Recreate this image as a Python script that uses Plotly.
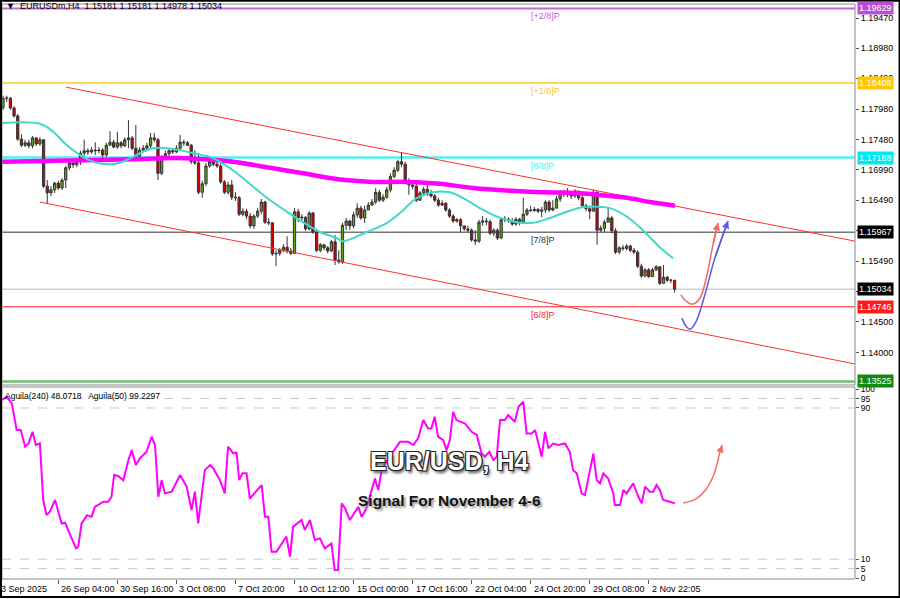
import plotly.graph_objects as go

# ---------------- data ----------------
first_open = 1.1800
close = [1.1816,1.1816,1.1800,1.1787,1.1749,1.1739,1.1743,1.1738,1.1751,1.1741,
         1.1748,1.1672,1.1661,1.1666,1.1677,1.1669,1.1682,1.1702,1.1710,1.1707,
         1.1712,1.1726,1.1730,1.1728,1.1731,1.1730,1.1731,1.1723,1.1739,1.1744,
         1.1736,1.1743,1.1738,1.1748,1.1751,1.1734,1.1721,1.1731,1.1734,1.1738,
         1.1751,1.1748,1.1693,1.1718,1.1725,1.1730,1.1728,1.1734,1.1744,1.1743,
         1.1739,1.1712,1.1710,1.1662,1.1676,1.1705,1.1712,1.1708,1.1705,1.1679,
         1.1662,1.1674,1.1654,1.1653,1.1626,1.1631,1.1623,1.1607,1.1623,1.1631,
         1.1646,1.1613,1.1612,1.1561,1.1562,1.1567,1.1572,1.1566,1.1562,1.1630,
         1.1620,1.1621,1.1602,1.1628,1.1597,1.1567,1.1576,1.1571,1.1566,1.1581,
         1.1551,1.1548,1.1608,1.1615,1.1607,1.1625,1.1636,1.1620,1.1633,1.1641,
         1.1646,1.1662,1.1649,1.1654,1.1666,1.1688,1.1698,1.1712,1.1708,1.1681,
         1.1674,1.1672,1.1649,1.1661,1.1667,1.1659,1.1656,1.1649,1.1641,1.1644,
         1.1633,1.1623,1.1615,1.1617,1.1607,1.1602,1.1600,1.1584,1.1582,1.1613,
         1.1615,1.1614,1.1595,1.1600,1.1587,1.1617,1.1618,1.1615,1.1610,1.1618,
         1.1612,1.1626,1.1633,1.1632,1.1634,1.1631,1.1633,1.1646,1.1633,1.1636,
         1.1651,1.1661,1.1662,1.1658,1.1656,1.1664,1.1653,1.1640,1.1635,1.1631,
         1.1662,1.1600,1.1603,1.1613,1.1620,1.1599,1.1564,1.1571,1.1570,1.1574,
         1.1567,1.1564,1.1541,1.1525,1.1535,1.1524,1.1535,1.1540,1.1513,1.1523,
         1.1518,1.15181,1.15034]
high = [1.1820,1.1820,1.1818,1.1803,1.1790,1.1757,1.1748,1.1748,1.1754,1.1752,
        1.1752,1.1746,1.1682,1.1672,1.1679,1.1681,1.1685,1.1705,1.1713,1.1712,
        1.1715,1.1730,1.1748,1.1734,1.1736,1.1744,1.1736,1.1734,1.1743,1.1762,
        1.1748,1.1761,1.1746,1.1752,1.1780,1.1754,1.1772,1.1736,1.1739,1.1743,
        1.1759,1.1759,1.1751,1.1723,1.1730,1.1733,1.1734,1.1739,1.1756,1.1748,
        1.1746,1.1741,1.1731,1.1726,1.1681,1.1710,1.1716,1.1713,1.1712,1.1710,
        1.1682,1.1679,1.1682,1.1662,1.1656,1.1636,1.1635,1.1628,1.1626,1.1636,
        1.1651,1.1648,1.1620,1.1613,1.1567,1.1571,1.1577,1.1590,1.1571,1.1636,
        1.1635,1.1626,1.1623,1.1631,1.1630,1.1602,1.1579,1.1577,1.1574,1.1584,
        1.1592,1.1567,1.1612,1.1620,1.1617,1.1630,1.1644,1.1640,1.1640,1.1646,
        1.1651,1.1669,1.1666,1.1659,1.1671,1.1693,1.1703,1.1715,1.1728,1.1712,
        1.1685,1.1679,1.1676,1.1664,1.1671,1.1676,1.1666,1.1659,1.1653,1.1649,
        1.1646,1.1636,1.1626,1.1620,1.1620,1.1607,1.1607,1.1603,1.1600,1.1617,
        1.1623,1.1620,1.1617,1.1603,1.1603,1.1620,1.1623,1.1621,1.1620,1.1621,
        1.1620,1.1653,1.1636,1.1640,1.1638,1.1636,1.1638,1.1649,1.1649,1.1649,
        1.1656,1.1666,1.1666,1.1669,1.1662,1.1667,1.1662,1.1658,1.1643,1.1640,
        1.1667,1.1664,1.1608,1.1617,1.1636,1.1623,1.1603,1.1574,1.1576,1.1577,
        1.1576,1.1571,1.1567,1.1545,1.1538,1.1538,1.1538,1.1543,1.1541,1.1543,
        1.1525,1.1520,1.15181]
low = [1.1797,1.1810,1.1797,1.1784,1.1746,1.1736,1.1736,1.1734,1.1734,1.1738,
       1.1738,1.1669,1.1644,1.1656,1.1661,1.1666,1.1666,1.1669,1.1698,1.1702,
       1.1703,1.1707,1.1721,1.1723,1.1725,1.1723,1.1726,1.1718,1.1720,1.1738,
       1.1734,1.1733,1.1734,1.1736,1.1734,1.1731,1.1718,1.1718,1.1728,1.1731,
       1.1734,1.1744,1.1682,1.1690,1.1715,1.1721,1.1725,1.1726,1.1731,1.1738,
       1.1738,1.1708,1.1707,1.1659,1.1653,1.1672,1.1702,1.1705,1.1702,1.1676,
       1.1659,1.1658,1.1649,1.1648,1.1623,1.1623,1.1618,1.1603,1.1602,1.1620,
       1.1626,1.1610,1.1608,1.1558,1.1541,1.1558,1.1564,1.1562,1.1559,1.1561,
       1.1613,1.1613,1.1599,1.1600,1.1594,1.1564,1.1564,1.1567,1.1562,1.1564,
       1.1543,1.1545,1.1545,1.1600,1.1600,1.1603,1.1620,1.1617,1.1612,1.1633,
       1.1640,1.1643,1.1646,1.1646,1.1651,1.1662,1.1685,1.1695,1.1703,1.1676,
       1.1658,1.1667,1.1646,1.1648,1.1658,1.1656,1.1653,1.1646,1.1638,1.1640,
       1.1630,1.1620,1.1612,1.1612,1.1597,1.1599,1.1597,1.1581,1.1576,1.1579,
       1.1607,1.1608,1.1592,1.1590,1.1584,1.1586,1.1613,1.1612,1.1607,1.1607,
       1.1608,1.1610,1.1623,1.1630,1.1630,1.1628,1.1621,1.1628,1.1630,1.1631,
       1.1640,1.1646,1.1654,1.1654,1.1651,1.1653,1.1649,1.1636,1.1631,1.1618,
       1.1633,1.1576,1.1597,1.1597,1.1613,1.1595,1.1561,1.1561,1.1566,1.1567,
       1.1564,1.1561,1.1538,1.1522,1.1523,1.1522,1.1525,1.1533,1.1510,1.1513,
       1.1515,1.1513,1.14978]

# moving averages (at sample bars)
ma_fast_bar = [-0.8,10.0,13.6,17.3,20.9,24.4,29.8,32.5,35.2,40.7,46.1,51.5,56.9,62.3,67.8,72.4,
               77.0,81.3,85.9,90.5,92.1,98.6,104.1,107.6,112.2,116.5,121.1,125.7,130.1,134.7,
               139.3,143.6,148.2,152.8,157.2,161.8,164.5,169.1,173.4,178.0,181.6]
ma_fast = [1.1775,1.1774,1.1761,1.1739,1.1723,1.1712,1.1708,1.1712,1.1720,1.1734,1.1733,1.1726,
           1.1718,1.1698,1.1671,1.1649,1.1630,1.1613,1.1597,1.1587,1.1582,1.1597,1.1612,1.1628,
           1.1653,1.1662,1.1662,1.1649,1.1633,1.1620,1.1613,1.1612,1.1620,1.1630,1.1638,1.1638,
           1.1636,1.1622,1.1600,1.1572,1.1554]
ma_slow_bar = [-0.8,10.8,26.3,35.2,46.1,54.2,62.3,72.4,81.3,92.7,100.3,109.5,118.4,127.4,138.8,
               146.3,155.6,161.0,169.1,175.3,182.1]
ma_slow = [1.1712,1.1713,1.1715,1.1716,1.1718,1.1716,1.1712,1.1702,1.1693,1.1682,1.1679,1.1679,
           1.1676,1.1669,1.1664,1.1662,1.1661,1.1658,1.1653,1.1646,1.1640]

# oscillator (Aguila) readings
osc_bar = [-0.4,1.0,2.4,3.7,4.8,6.0,6.9,8.0,8.9,10.0,10.9,11.8,12.7,14.1,15.9,16.8,19.8,20.4,21.3,
           22.8,24.0,24.9,27.2,28.5,29.4,30.1,31.2,32.6,34.0,34.9,36.0,37.1,38.9,40.3,41.2,42.1,
           43.0,43.9,45.7,48.0,49.8,51.1,52.0,52.9,54.7,56.1,57.0,58.8,60.1,61.0,62.4,63.3,64.0,
           64.9,66.0,66.9,70.1,71.0,71.9,72.8,74.1,76.8,77.8,78.6,80.9,81.8,83.2,84.5,85.9,87.2,
           89.0,89.9,90.8,91.8,92.7,94.0,96.3,97.2,98.5,99.9,100.8,101.7,102.6,104.4,107.6,109.8,
           111.2,112.5,113.9,115.2,116.1,117.0,117.9,119.3,120.2,121.1,122.0,122.9,125.2,127.0,
           128.4,129.7,130.6,131.8,132.9,133.8,134.7,136.0,136.9,138.7,139.7,141.0,141.9,143.3,
           144.2,146.0,146.9,147.8,149.1,150.5,152.3,153.6,154.5,155.5,156.8,157.7,159.1,160.0,
           160.9,161.8,162.7,164.0,165.4,165.8,167.2,168.1,169.0,170.8,172.2,173.1,174.0,175.3,
           176.2,177.1,178.0,178.9,180.7,182.1]
osc = [94.2,95.9,92.4,78.3,78.3,69.5,71.2,77.4,70.4,71.2,41.3,33.3,35.1,41.3,28.9,29.3,15.7,16.6,
       28.9,33.3,32.4,37.7,40.4,40.4,43.0,54.5,54.0,51.8,62.4,67.7,59.8,63.3,66.8,74.8,70.4,43.0,
       51.8,44.8,45.7,54.5,48.3,36.0,45.7,28.9,57.1,59.8,58.0,51.8,44.8,69.5,66.0,66.3,51.8,55.4,
       55.4,42.1,49.2,32.4,32.4,13.9,13.9,21.9,11.3,27.1,30.7,25.4,30.7,20.1,21.0,15.7,18.3,4.2,
       4.2,39.5,36.9,30.7,37.7,32.4,36.9,46.6,52.7,46.6,57.1,63.3,72.1,72.1,70.4,73.9,83.6,79.2,
       79.2,85.4,74.8,73.0,67.7,73.0,88.0,83.6,81.8,77.4,75.7,65.9,64.2,66.8,62.4,64.2,83.6,83.6,
       86.2,82.7,90.6,93.3,76.5,76.5,78.3,64.2,77.4,68.6,71.2,70.4,71.2,66.8,57.1,55.4,44.8,43.9,
       56.3,65.9,51.8,50.1,55.4,52.7,44.8,38.6,38.6,46.6,44.8,50.1,43.0,39.5,48.3,45.7,45.7,49.2,
       46.6,41.3,40.4,39.5]

# Murrey math levels
levels = [1.19629, 1.18408, 1.17188, 1.15967, 1.14746, 1.13525]
level_names = ["[+2/8]P", "[+1/8]P", "[8/8]P", "[7/8]P", "[6/8]P", "[-1/8]P"]
level_colors = ["#c864dc", "#ffc81e", "#50f0f0", "#303030", "#ff2020", "#6cbf6c"]
level_box = ["#b84fd0", "#ffc800", "#00e8f0", "#000000", "#ff1a1a", "#108a10"]
level_width = [2, 1.5, 2.5, 1, 1, 2.5]
last_price = 1.15034

# trend channel (bar index, price)
chan_upper = [(17.1, 1.1834), (230.9, 1.1582)]
chan_lower = [(10.0, 1.1646), (230.9, 1.1381)]

# forecast arrows
red_arrow_bar = [183.7, 185.1, 187.0, 188.9, 190.8, 192.4, 193.8]
red_arrow_p = [1.1494, 1.1484, 1.1479, 1.1489, 1.1527, 1.1576, 1.1612]
blue_arrow_bar = [184.0, 185.1, 186.2, 187.8, 190.2, 192.9, 196.5]
blue_arrow_p = [1.1456, 1.1443, 1.1438, 1.1450, 1.1494, 1.1554, 1.1615]
osc_arrow_bar = [184.3, 187.7, 190.4, 192.6, 194.3, 194.9]
osc_arrow_v = [39.7, 41.8, 46.6, 54.5, 66.7, 70.4]

# axis ticks
time_tick_bar = [-1, 15, 31, 47, 63, 79, 95, 111, 127, 143, 159, 175]
time_tick_text = ["23 Sep 2025", "26 Sep 04:00", "30 Sep 16:00", "3 Oct 08:00", "7 Oct 20:00",
                  "10 Oct 12:00", "15 Oct 00:00", "17 Oct 16:00", "22 Oct 04:00", "24 Oct 20:00",
                  "29 Oct 08:00", "2 Nov 22:05"]
price_ticks = [1.19470, 1.18980, 1.18490, 1.17980, 1.17480, 1.16990, 1.16490, 1.15990,
               1.15490, 1.14990, 1.14500, 1.14000]
osc_ticks = [100, 95, 90, 10, 5, 0]
osc_dash = [95, 90, 10, 5]

# ---------------- figure ----------------
FONT = "Liberation Sans"
bars = list(range(len(close)))
opens = [first_open] + close[:-1]
hi = [max(h, o, c) for h, o, c in zip(high, opens, close)]
lo = [min(l, o, c) for l, o, c in zip(low, opens, close)]

fig = go.Figure()

# channel lines
for seg in (chan_upper, chan_lower):
    fig.add_trace(go.Scatter(x=[seg[0][0], seg[1][0]], y=[seg[0][1], seg[1][1]], mode="lines",
                             line=dict(color="#ff3030", width=1), xaxis="x", yaxis="y",
                             hoverinfo="skip", showlegend=False))

fig.add_trace(go.Scatter(x=ma_slow_bar, y=ma_slow, mode="lines", line=dict(color="#ff00ff", width=4.5, shape="spline"),
                         xaxis="x", yaxis="y", hoverinfo="skip", showlegend=False))
fig.add_trace(go.Scatter(x=ma_fast_bar, y=ma_fast, mode="lines", line=dict(color="#40d8c8", width=2, shape="spline"),
                         xaxis="x", yaxis="y", hoverinfo="skip", showlegend=False))

fig.add_trace(go.Candlestick(x=bars, open=opens, high=hi, low=lo, close=close,
                             increasing=dict(line=dict(color="#333333", width=1), fillcolor="#5fa61c"),
                             decreasing=dict(line=dict(color="#333333", width=1), fillcolor="#d00000"),
                             whiskerwidth=0, xaxis="x", yaxis="y", hoverinfo="skip", showlegend=False))

# forecast arrows
fig.add_trace(go.Scatter(x=red_arrow_bar, y=red_arrow_p, mode="lines",
                         line=dict(color="#f06a6a", width=1.5, shape="spline"),
                         xaxis="x", yaxis="y", hoverinfo="skip", showlegend=False))
fig.add_trace(go.Scatter(x=blue_arrow_bar, y=blue_arrow_p, mode="lines",
                         line=dict(color="#5a5ae6", width=1.5, shape="spline"),
                         xaxis="x", yaxis="y", hoverinfo="skip", showlegend=False))

# oscillator
fig.add_trace(go.Scatter(x=osc_bar, y=osc, mode="lines", line=dict(color="#ff00ff", width=2),
                         xaxis="x", yaxis="y2", hoverinfo="skip", showlegend=False))
fig.add_trace(go.Scatter(x=osc_arrow_bar, y=osc_arrow_v, mode="lines",
                         line=dict(color="#f07060", width=1.5, shape="spline"),
                         xaxis="x", yaxis="y2", hoverinfo="skip", showlegend=False))

shapes = []
annotations = []

# level lines + labels
for lv, nm, col, box, w in zip(levels, level_names, level_colors, level_box, level_width):
    shapes.append(dict(type="line", xref="x domain", x0=0, x1=1, yref="y", y0=lv, y1=lv,
                       line=dict(color=col, width=w), layer="below"))
    if nm != "[-1/8]P":
        annotations.append(dict(x=142.5, y=lv, xref="x", yref="y", text=nm, showarrow=False,
                                xanchor="left", yanchor="top", yshift=-1,
                                font=dict(family=FONT, size=9, color=col)))
# bid line
shapes.append(dict(type="line", xref="x domain", x0=0, x1=1, yref="y", y0=last_price, y1=last_price,
                   line=dict(color="#b4bccc", width=1), layer="below"))

# oscillator dashed lines
for d in osc_dash:
    shapes.append(dict(type="line", xref="x domain", x0=0, x1=1, yref="y2", y0=d, y1=d,
                       line=dict(color="#c8c8c8", width=1, dash="dash"), layer="below"))

# panel frames
shapes.append(dict(type="rect", xref="x domain", x0=0, x1=1, yref="y domain", y0=0, y1=1,
                   line=dict(color="#8a8a8a", width=1)))
shapes.append(dict(type="rect", xref="x domain", x0=0, x1=1, yref="y2 domain", y0=0, y1=1,
                   line=dict(color="#8a8a8a", width=1)))
# outer frame
shapes.append(dict(type="rect", xref="paper", yref="paper", x0=-0.0012, x1=1.0522, y0=-0.0315, y1=1.0055,
                   line=dict(color="#000000", width=2)))

# price boxes on the right
box_vals = levels + [last_price]
box_cols = level_box + ["#000000"]
for v, c in zip(box_vals, box_cols):
    annotations.append(dict(x=1, xref="paper", y=v, yref="y", text=f"{v:.5f}", showarrow=False,
                            xanchor="left", xshift=2, bgcolor=c, borderpad=1,
                            font=dict(family=FONT, size=9, color="#ffffff")))

# time labels (first one starts just left of the frame, as in the original)
for i, (tb, tt) in enumerate(zip(time_tick_bar, time_tick_text)):
    if i == 0:
        annotations.append(dict(x=0, xref="paper", y=0, yref="paper", text=tt, showarrow=False,
                                xanchor="left", yanchor="top", xshift=-8, yshift=-3,
                                font=dict(family=FONT, size=9, color="#000000")))
    else:
        annotations.append(dict(x=tb, xref="x", y=0, yref="paper", text=tt, showarrow=False,
                                xanchor="left", yanchor="top", xshift=1, yshift=-3,
                                font=dict(family=FONT, size=9, color="#000000")))

# header texts
annotations.append(dict(x=0, xref="paper", y=1, yref="paper", xanchor="left", yanchor="middle",
                        xshift=2, yshift=-2, showarrow=False,
                        text="\u25BC  EURUSDm,H4  1.15181 1.15181 1.14978 1.15034",
                        font=dict(family=FONT, size=9, color="#000000")))
annotations.append(dict(x=0, xref="x domain", y=1, yref="y2 domain", xanchor="left", yanchor="top",
                        xshift=1, yshift=-2, showarrow=False,
                        text="Aguila(240) 48.0718   Aguila(50) 99.2297",
                        font=dict(family=FONT, size=8.5, color="#000000")))

# big titles
annotations.append(dict(x=0.5245, xref="paper", y=0.205, yref="paper", xanchor="center", yanchor="middle",
                        showarrow=False, text="<b>EUR/USD, H4</b>",
                        font=dict(family=FONT, size=25, color="#ffffff",
                                  shadow="-1px -1px 0 #222, 1px -1px 0 #222, -1px 1px 0 #222, 1px 1px 0 #222, 2px 3px 3px #555")))
annotations.append(dict(x=0.5245, xref="paper", y=0.136, yref="paper", xanchor="center", yanchor="middle",
                        showarrow=False, text="<b>Signal For November 4-6</b>",
                        font=dict(family=FONT, size=15.5, color="#111111",
                                  shadow="2px 2px 2px #9a9a9a")))

# arrow heads
annotations.append(dict(x=red_arrow_bar[-1], y=red_arrow_p[-1], ax=red_arrow_bar[-2], ay=red_arrow_p[-2],
                        xref="x", yref="y", axref="x", ayref="y", showarrow=True, arrowhead=2,
                        arrowsize=1, arrowwidth=1.5, arrowcolor="#f06a6a", text=""))
annotations.append(dict(x=blue_arrow_bar[-1], y=blue_arrow_p[-1], ax=blue_arrow_bar[-2], ay=blue_arrow_p[-2],
                        xref="x", yref="y", axref="x", ayref="y", showarrow=True, arrowhead=2,
                        arrowsize=1, arrowwidth=1.5, arrowcolor="#5a5ae6", text=""))
annotations.append(dict(x=osc_arrow_bar[-1], y=osc_arrow_v[-1], ax=osc_arrow_bar[-2], ay=osc_arrow_v[-2],
                        xref="x", yref="y2", axref="x", ayref="y2", showarrow=True, arrowhead=2,
                        arrowsize=1, arrowwidth=1.5, arrowcolor="#f07060", text=""))

fig.update_layout(
    width=900, height=599,
    margin=dict(l=2, r=45, t=4, b=20),
    paper_bgcolor="#ffffff", plot_bgcolor="#ffffff",
    showlegend=False, boxgap=0.12,
    xaxis=dict(domain=[0, 1], anchor="y2", range=[-0.27, 230.9], showgrid=False, zeroline=False,
               tickmode="array", tickvals=time_tick_bar, ticks="outside", ticklen=4, tickcolor="#555",
               showticklabels=False, rangeslider=dict(visible=False), showline=False, fixedrange=True),
    yaxis=dict(domain=[0.3374, 1], anchor="x", side="right", range=[1.13466, 1.19701],
               showgrid=False, zeroline=False, tickmode="array", tickvals=price_ticks,
               ticktext=[f"{t:.5f}" for t in price_ticks], ticks="outside", ticklen=3, tickcolor="#555",
               tickfont=dict(family=FONT, size=9, color="#000000")),
    yaxis2=dict(domain=[0, 0.3339], anchor="x", side="right", range=[-0.5, 101.1],
                showgrid=False, zeroline=False, tickmode="array", tickvals=osc_ticks,
                ticktext=[str(t) for t in osc_ticks], ticks="outside", ticklen=3, tickcolor="#555",
                tickfont=dict(family=FONT, size=8.5, color="#000000")),
    shapes=shapes, annotations=annotations,
)

fig.write_html("out.html", config={"displayModeBar": False, "staticPlot": True},
               post_script="document.body.style.margin='0';document.body.style.padding='0';")
